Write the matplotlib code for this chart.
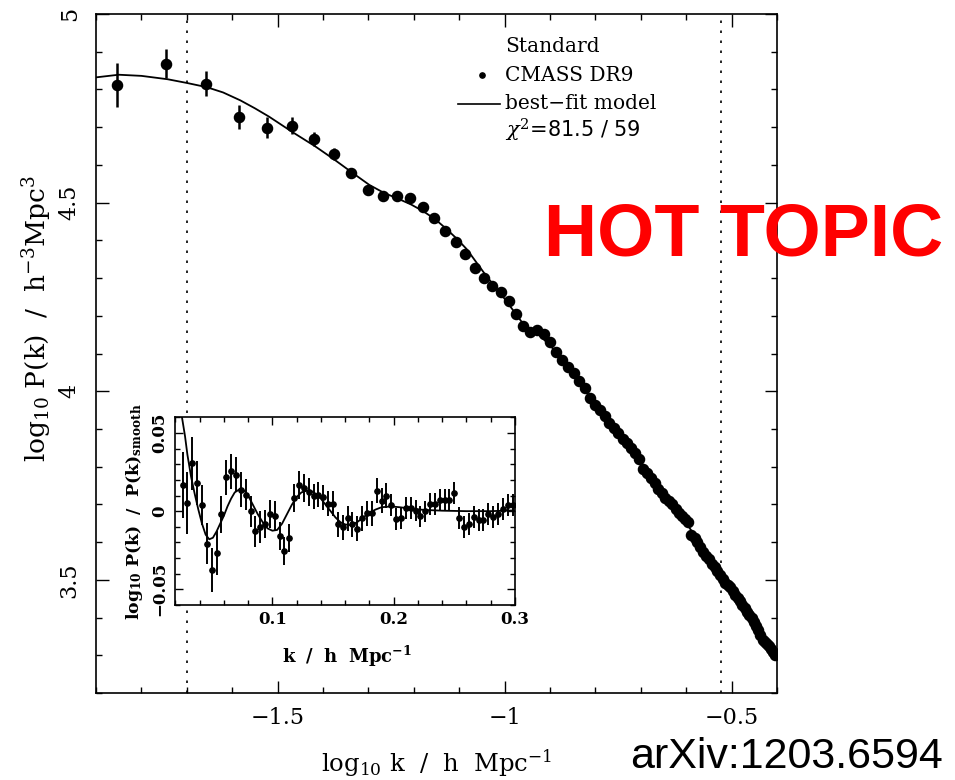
import numpy as np
import matplotlib
matplotlib.use('Agg')
import matplotlib.pyplot as plt
from matplotlib.ticker import MultipleLocator

plt.rcParams['font.family'] = ['DejaVu Serif']
plt.rcParams['mathtext.fontset'] = 'dejavuserif'

# CMASS DR9 power spectrum, k in h/Mpc, log10 P in (Mpc/h)^3
k = [0.014, 0.018, 0.022, 0.026, 0.030, 0.034, 0.038, 0.042, 0.046, 0.050,
     0.054, 0.058, 0.062, 0.066, 0.070, 0.074, 0.078, 0.082, 0.086, 0.090,
     0.094, 0.098, 0.102, 0.106, 0.110, 0.114, 0.118, 0.122, 0.126, 0.130,
     0.134, 0.138, 0.142, 0.146, 0.150, 0.154, 0.158, 0.162, 0.166, 0.170,
     0.174, 0.178, 0.182, 0.186, 0.190, 0.194, 0.198, 0.202, 0.206, 0.210,
     0.214, 0.218, 0.222, 0.226, 0.230, 0.234, 0.238, 0.242, 0.246, 0.250,
     0.254, 0.258, 0.262, 0.266, 0.270, 0.274, 0.278, 0.282, 0.286, 0.290,
     0.294, 0.298, 0.302, 0.306, 0.310, 0.314, 0.318, 0.322, 0.326, 0.330,
     0.334, 0.338, 0.342, 0.346, 0.350, 0.354, 0.358, 0.362, 0.366, 0.370,
     0.374, 0.378, 0.382, 0.386, 0.390, 0.394]
logP = [4.812, 4.868, 4.815, 4.727, 4.699, 4.704, 4.668, 4.630, 4.579, 4.534,
        4.517, 4.517, 4.512, 4.489, 4.460, 4.424, 4.395, 4.363, 4.326, 4.301,
        4.280, 4.262, 4.239, 4.206, 4.173, 4.157, 4.161, 4.151, 4.130, 4.105,
        4.082, 4.065, 4.048, 4.028, 4.008, 3.981, 3.963, 3.949, 3.933, 3.916,
        3.903, 3.889, 3.874, 3.863, 3.850, 3.837, 3.820, 3.795, 3.782, 3.771,
        3.756, 3.742, 3.729, 3.718, 3.710, 3.700, 3.688, 3.678, 3.670, 3.662,
        3.652, 3.620, 3.612, 3.600, 3.586, 3.575, 3.564, 3.554, 3.543, 3.533,
        3.524, 3.512, 3.501, 3.492, 3.486, 3.481, 3.470, 3.460, 3.451, 3.443,
        3.434, 3.425, 3.416, 3.407, 3.398, 3.388, 3.378, 3.368, 3.353, 3.341,
        3.336, 3.331, 3.324, 3.316, 3.309, 3.301]
logP_err = [0.058, 0.038, 0.033, 0.032, 0.027, 0.022, 0.018, 0.016, 0.013, 0.011,
            0.010, 0.009, 0.008, 0.008, 0.007, 0.007, 0.006, 0.006, 0.006, 0.006,
            0.006, 0.006, 0.006, 0.006, 0.006, 0.006, 0.006, 0.005, 0.005, 0.005,
            0.005, 0.005, 0.005, 0.005, 0.005, 0.005, 0.005, 0.005, 0.005, 0.005,
            0.005, 0.005, 0.005, 0.005, 0.005, 0.005, 0.005, 0.004, 0.004, 0.004,
            0.004, 0.004, 0.004, 0.004, 0.004, 0.004, 0.004, 0.004, 0.004, 0.004,
            0.004, 0.004, 0.004, 0.004, 0.004, 0.004, 0.004, 0.004, 0.004, 0.004,
            0.004, 0.004, 0.003, 0.003, 0.003, 0.003, 0.003, 0.003, 0.003, 0.003,
            0.003, 0.003, 0.003, 0.003, 0.003, 0.003, 0.003, 0.003, 0.003, 0.003,
            0.003, 0.003, 0.003, 0.003, 0.003, 0.003]

# best-fit model
model_logk = [-1.900, -1.850, -1.800, -1.742, -1.699, -1.656, -1.620, -1.582,
              -1.550, -1.519, -1.466, -1.417, -1.375, -1.334, -1.298, -1.266,
              -1.234, -1.206, -1.179, -1.152, -1.128, -1.105, -1.083, -1.060,
              -1.040, -1.000, -0.960, -0.920, -0.880, -0.840, -0.800, -0.760,
              -0.720, -0.700, -0.660, -0.620, -0.580, -0.540, -0.500, -0.460,
              -0.420, -0.400]
model_logP = [4.832, 4.839, 4.836, 4.827, 4.817, 4.806, 4.792, 4.771,
              4.750, 4.728, 4.686, 4.649, 4.614, 4.578, 4.547, 4.526,
              4.510, 4.495, 4.477, 4.455, 4.430, 4.404, 4.376, 4.338,
              4.305, 4.245, 4.180, 4.145, 4.097, 4.036, 3.962, 3.901,
              3.846, 3.813, 3.745, 3.684, 3.616, 3.545, 3.474, 3.405,
              3.330, 3.297]

# fitting range
k_min, k_max = 0.02, 0.3

# BAO ratio P(k)/P(k)smooth
k_bao = [0.026, 0.030, 0.034, 0.038, 0.042, 0.046, 0.050, 0.054, 0.058, 0.062,
         0.066, 0.070, 0.074, 0.078, 0.082, 0.086, 0.090, 0.094, 0.098, 0.102,
         0.106, 0.110, 0.114, 0.118, 0.122, 0.126, 0.130, 0.134, 0.138, 0.142,
         0.146, 0.150, 0.154, 0.158, 0.162, 0.166, 0.170, 0.174, 0.178, 0.182,
         0.186, 0.190, 0.194, 0.198, 0.202, 0.206, 0.210, 0.214, 0.218, 0.222,
         0.226, 0.230, 0.234, 0.238, 0.242, 0.246, 0.250, 0.254, 0.258, 0.262,
         0.266, 0.270, 0.274, 0.278, 0.282, 0.286, 0.290, 0.294, 0.298]
ratio = [0.0169, 0.0051, 0.0305, 0.0178, 0.0040, -0.0208, -0.0377, -0.0267, -0.0021, 0.0216,
         0.0254, 0.0233, 0.0138, 0.0106, -0.0002, -0.0129, -0.0102, -0.0081, -0.0017, -0.0028,
         -0.0161, -0.0256, -0.0172, 0.0083, 0.0167, 0.0146, 0.0125, 0.0095, 0.0104, 0.0089,
         0.0047, 0.0047, -0.0085, -0.0102, -0.0044, -0.0085, -0.0112, -0.0044, -0.0013, -0.0013,
         0.0131, 0.0068, 0.0100, 0.0040, -0.0053, -0.0042, 0.0021, 0.0021, 0.0004, -0.0034,
         -0.0002, 0.0047, 0.0047, 0.0072, 0.0072, 0.0072, 0.0117, -0.0042, -0.0102, -0.0085,
         -0.0038, -0.0059, -0.0059, -0.0021, -0.0038, -0.0017, 0.0015, 0.0040, 0.0042]
ratio_err = [0.021, 0.020, 0.017, 0.014, 0.013, 0.013, 0.014, 0.014, 0.012, 0.011,
             0.011, 0.011, 0.011, 0.010, 0.010, 0.010, 0.010, 0.009, 0.009, 0.009,
             0.009, 0.009, 0.009, 0.009, 0.009, 0.009, 0.009, 0.008, 0.008, 0.008,
             0.008, 0.008, 0.008, 0.008, 0.008, 0.008, 0.008, 0.008, 0.008, 0.008,
             0.008, 0.008, 0.008, 0.007, 0.007, 0.007, 0.007, 0.007, 0.007, 0.007,
             0.007, 0.007, 0.007, 0.007, 0.007, 0.007, 0.007, 0.007, 0.007, 0.007,
             0.007, 0.007, 0.007, 0.007, 0.007, 0.007, 0.007, 0.007, 0.007]

model_k_bao = [0.0255, 0.028, 0.030, 0.033, 0.036, 0.039, 0.042, 0.045, 0.048, 0.051,
               0.054, 0.057, 0.060, 0.063, 0.066, 0.069, 0.073, 0.077, 0.080, 0.084,
               0.088, 0.092, 0.096, 0.100, 0.104, 0.108, 0.112, 0.116, 0.120, 0.124,
               0.128, 0.132, 0.136, 0.140, 0.144, 0.148, 0.152, 0.156, 0.160, 0.165,
               0.170, 0.175, 0.180, 0.185, 0.190, 0.198, 0.205, 0.215, 0.225, 0.240,
               0.260, 0.280, 0.300]
model_ratio = [0.060, 0.048, 0.036, 0.022, 0.011, 0.001, -0.008, -0.015, -0.018, -0.017,
               -0.013, -0.008, -0.003, 0.003, 0.008, 0.012, 0.014, 0.013, 0.010, 0.004,
               -0.002, -0.007, -0.011, -0.0125, -0.012, -0.008, -0.002, 0.004, 0.009, 0.012,
               0.013, 0.013, 0.011, 0.008, 0.004, 0.000, -0.004, -0.007, -0.0085, -0.009,
               -0.007, -0.004, -0.001, 0.001, 0.0025, 0.003, 0.0025, 0.0015, 0.0008, 0.0003,
               0.0, 0.0, 0.0005]

W, H = 955, 780
fig = plt.figure(figsize=(W / 100, H / 100), dpi=100)

# main panel
ax = fig.add_axes([96 / W, 1 - 693 / H, 681 / W, 679 / H])
ax.errorbar(np.log10(k), logP, yerr=logP_err, fmt='o', color='black',
            markersize=7.3, elinewidth=1.8, capsize=0, zorder=3)
ax.plot(model_logk, model_logP, color='black', lw=1.3, zorder=2)
for kk in (k_min, k_max):
    ax.axvline(np.log10(kk), color='black', lw=1.2, ls=(0, (1.5, 4.5)), zorder=1)

ax.set_xlim(-1.9, -0.4)
ax.set_ylim(3.2, 5.0)
ax.xaxis.set_major_locator(MultipleLocator(0.5))
ax.xaxis.set_minor_locator(MultipleLocator(0.1))
ax.yaxis.set_major_locator(MultipleLocator(0.5))
ax.yaxis.set_minor_locator(MultipleLocator(0.1))
ax.tick_params(which='both', direction='in', top=True, right=True, width=1.0,
               labelsize=16)
ax.tick_params(which='major', length=9)
ax.tick_params(which='minor', length=4.5)
ax.tick_params(axis='x', pad=10)
ax.tick_params(axis='y', pad=11)
ax.set_xticks([-1.5, -1, -0.5], ['\u22121.5', '\u22121', '\u22120.5'])
ax.set_yticks([3.5, 4, 4.5, 5], ['3.5', '4', '4.5', '5'])
plt.setp(ax.get_yticklabels(), rotation=90, va='center')
for s in ax.spines.values():
    s.set_linewidth(1.2)

ax.set_xlabel(r'$\mathrm{log_{10}\ k\ \ /\ \ h\ \ Mpc^{-1}}$', fontsize=17.5)
ax.xaxis.set_label_coords(0.5, -0.081)
ax.set_ylabel(r'$\mathrm{log_{10}\ P(k)\ \ /\ \ h^{-3}Mpc^{3}}$', fontsize=19)
ax.yaxis.set_label_coords(-0.062, 0.552)

# key
ax.text(0.6006, 0.952, 'Standard', transform=ax.transAxes, fontsize=14.5, va='center')
ax.plot([0.5668], [0.9095], 'o', color='black', markersize=3.8,
        transform=ax.transAxes, clip_on=False)
ax.text(0.6006, 0.9095, 'CMASS DR9', transform=ax.transAxes, fontsize=14.5, va='center')
ax.plot([0.5316, 0.5932], [0.868, 0.868], color='black', lw=1.2,
        transform=ax.transAxes, clip_on=False)
ax.text(0.6006, 0.868, 'best\u2212fit model', transform=ax.transAxes, fontsize=14.5,
        va='center')
ax.text(0.6006, 0.828, r'$\chi^{2}$=81.5 / 59', transform=ax.transAxes, fontsize=15,
        va='center', family='DejaVu Sans')

# BAO inset
axi = fig.add_axes([175.3 / W, 1 - 605 / H, 339.7 / W, 187.7 / H])
axi.set_facecolor('white')
axi.errorbar(k_bao, ratio, yerr=ratio_err, fmt='o', color='black',
             markersize=3.8, elinewidth=1.4, capsize=0, zorder=3)
axi.plot(model_k_bao, model_ratio, color='black', lw=1.3, zorder=2)
axi.set_xlim(0.02, 0.30)
axi.set_ylim(-0.06, 0.06)
axi.xaxis.set_major_locator(MultipleLocator(0.1))
axi.xaxis.set_minor_locator(MultipleLocator(0.02))
axi.yaxis.set_major_locator(MultipleLocator(0.05))
axi.yaxis.set_minor_locator(MultipleLocator(0.01))
axi.tick_params(which='both', direction='in', top=True, right=True, width=1.0,
                labelsize=12)
axi.tick_params(which='major', length=6)
axi.tick_params(which='minor', length=3.5)
axi.tick_params(axis='x', pad=4)
axi.tick_params(axis='y', pad=5)
axi.set_xticks([0.1, 0.2, 0.3], ['0.1', '0.2', '0.3'])
axi.set_yticks([-0.05, 0, 0.05], ['\u22120.05', '0', '0.05'])
plt.setp(axi.get_yticklabels(), rotation=90, va='center', fontweight='bold')
plt.setp(axi.get_xticklabels(), fontweight='bold')
for s in axi.spines.values():
    s.set_linewidth(1.2)
axi.set_xlabel(r'$\mathbf{k\ \ /\ \ h\ \ Mpc^{-1}}$', fontsize=13)
axi.xaxis.set_label_coords(0.505, -0.205)
axi.set_ylabel(r'$\mathbf{log_{10}\ P(k)\ \ /\ \ P(k)_{smooth}}$', fontsize=12.5)
axi.yaxis.set_label_coords(-0.09, 0.5)

fig.text(544 / W, 1 - 256 / H, 'HOT TOPIC', color='#ff0000', fontsize=53,
         fontweight='bold', family='Liberation Sans', va='baseline', ha='left',
         zorder=10)
fig.text(630 / W, 1 - 768 / H, 'arXiv:1203.6594', color='black', fontsize=31,
         family='Liberation Sans', va='baseline', ha='left')

fig.savefig('out.png', dpi=100)
